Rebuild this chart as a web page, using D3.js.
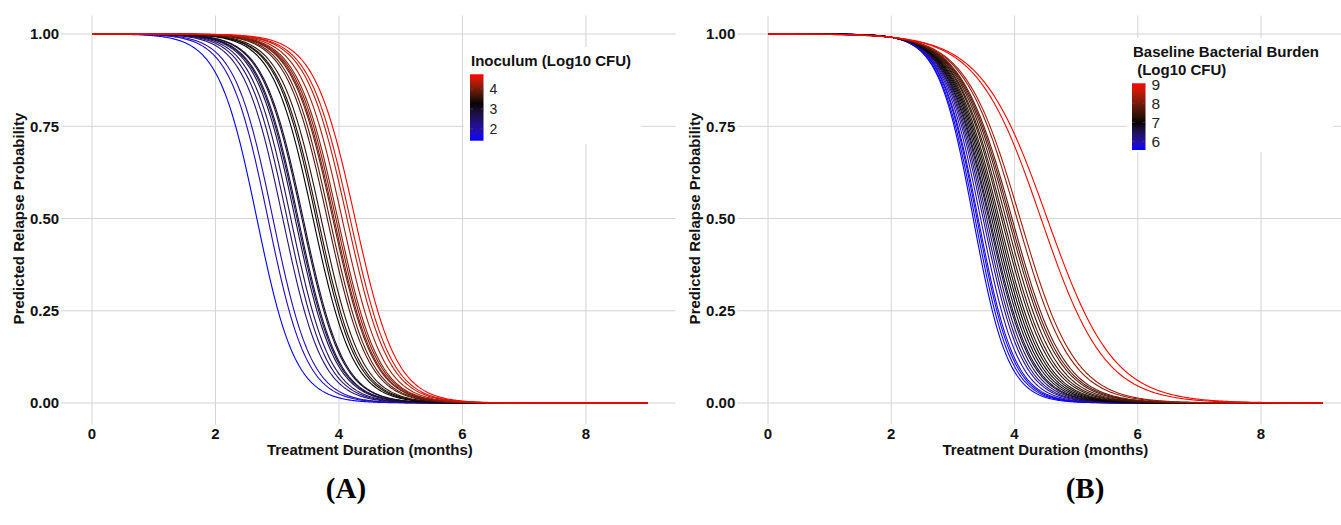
<!DOCTYPE html>
<html>
<head>
<meta charset="utf-8">
<script src="https://cdn.jsdelivr.net/npm/d3@7"></script>
<style>
  html, body { margin: 0; padding: 0; background: #fff; }
  svg { display: block; }
  text { font-family: "Liberation Sans", Arial, Helvetica, sans-serif; }
  text.caption { font-family: "Liberation Serif", "Times New Roman", serif; }
</style>
</head>
<body>
<svg id="chart" width="1341" height="525"></svg>
<script>
// ---------- DATA ----------
// Panel A: one curve per inoculum value; t50 = duration (months) at 50% relapse, slope = logistic steepness
const inoculumA = [1.40, 1.77, 1.94, 2.27, 2.42, 2.54, 2.69, 2.75, 2.79, 2.92, 2.96, 3.29, 3.40,
                   3.46, 3.56, 3.77, 3.85, 3.96, 4.00, 4.06, 4.12, 4.27, 4.44, 4.54, 4.75];
const t50A      = [2.67, 2.85, 2.93, 3.09, 3.16, 3.22, 3.29, 3.32, 3.34, 3.40, 3.42, 3.58, 3.63,
                   3.66, 3.71, 3.81, 3.85, 3.90, 3.92, 3.95, 3.98, 4.05, 4.13, 4.18, 4.26];
const slopeA    = [3.20, 3.20, 3.20, 3.15, 3.15, 3.15, 3.12, 3.12, 3.12, 3.10, 3.10, 3.08, 3.08,
                   3.06, 3.06, 3.05, 3.05, 3.04, 3.04, 3.03, 3.03, 3.02, 3.01, 3.00, 3.00];
const midA = 3.3;

// Panel B: one curve per baseline bacterial burden value
const burdenB = [5.55, 5.62, 5.70, 5.78, 5.90, 6.10, 6.25, 6.45, 6.65, 6.75, 6.85, 6.95, 7.05,
                 7.15, 7.25, 7.35, 7.45, 7.55, 7.65, 7.75, 7.85, 8.20, 8.35, 8.90, 9.05];
const t50B    = [3.33, 3.36, 3.39, 3.41, 3.45, 3.49, 3.52, 3.55, 3.58, 3.60, 3.63, 3.66, 3.69,
                 3.72, 3.75, 3.79, 3.82, 3.86, 3.90, 3.93, 3.96, 4.04, 4.09, 4.43, 4.53];
const slopeB  = [3.55, 3.45, 3.40, 3.35, 3.25, 3.15, 3.10, 3.03, 2.97, 2.94, 2.88, 2.83, 2.78,
                 2.73, 2.69, 2.63, 2.58, 2.53, 2.47, 2.44, 2.40, 2.30, 2.25, 1.93, 1.86];
const midB = 7.0;

const xTicks = [0, 2, 4, 6, 8];
const yTicks = [0, 0.25, 0.5, 0.75, 1];
const durationRange = [0, 9];

// ---------- LAYOUT ----------
const svg = d3.select("#chart");

function predicted(t, t50, k) { return 1 / (1 + Math.exp(k * (t - t50))); }

function drawPanel(cfg) {
  const g = svg.append("g");
  const x = d3.scaleLinear().domain([-0.45, 9.45]).range(cfg.xRange);
  const y = d3.scaleLinear().domain([-0.05, 1.05]).range([421.45, 15.55]);
  const [x0, x1] = cfg.xRange;

  // grid
  g.append("g").selectAll("line").data(yTicks).join("line")
    .attr("x1", x0 - 3).attr("x2", x1)
    .attr("y1", d => y(d)).attr("y2", d => y(d))
    .attr("stroke", "#d4d4d4").attr("stroke-width", 1);
  g.append("g").selectAll("line").data(xTicks).join("line")
    .attr("x1", d => x(d)).attr("x2", d => x(d))
    .attr("y1", y(1.05)).attr("y2", y(-0.05) + 3)
    .attr("stroke", "#d4d4d4").attr("stroke-width", 1);

  // tick labels
  g.append("g").selectAll("text").data(yTicks).join("text")
    .attr("x", x0 - 5).attr("y", d => y(d)).attr("dy", "0.35em")
    .attr("text-anchor", "end").attr("font-weight", "bold").attr("font-size", 15)
    .attr("fill", "#111").text(d3.format(".2f"));
  g.append("g").selectAll("text").data(xTicks).join("text")
    .attr("x", d => x(d)).attr("y", 439)
    .attr("text-anchor", "middle").attr("font-weight", "bold").attr("font-size", 15)
    .attr("fill", "#111").text(d => d);

  // axis titles
  g.append("text")
    .attr("x", (x0 + x1) / 2).attr("y", 455)
    .attr("text-anchor", "middle").attr("font-weight", "bold").attr("font-size", 15)
    .attr("fill", "#111").text("Treatment Duration (months)");
  g.append("text")
    .attr("transform", `translate(${cfg.yTitleX},${y(0.5)}) rotate(-90)`)
    .attr("text-anchor", "middle").attr("font-weight", "bold").attr("font-size", 15)
    .attr("fill", "#111").text("Predicted Relapse Probability");

  // legend background (hides grid)
  const L = cfg.legend;
  g.append("rect").attr("x", L.box[0]).attr("y", L.box[1])
    .attr("width", L.box[2]).attr("height", L.box[3]).attr("fill", "#fff");

  // colour scale
  const ext = d3.extent(cfg.values);
  const color = d3.scaleLinear().domain([ext[0], cfg.mid, ext[1]])
    .range(["#0000ff", "#000000", "#ff0000"]).interpolate(d3.interpolateLab);

  // curves
  const ts = d3.range(durationRange[0], durationRange[1] + 1e-9, 0.02);
  const line = d3.line().x(d => x(d[0])).y(d => y(d[1]));
  const curves = cfg.values.map((v, i) => ({
    v, pts: ts.map(t => [t, predicted(t, cfg.t50[i], cfg.slope[i])])
  })).sort((a, b) => a.v - b.v);
  g.append("g").selectAll("path").data(curves).join("path")
    .attr("d", d => line(d.pts))
    .attr("fill", "none").attr("stroke", d => color(d.v))
    .attr("stroke-width", 1.1);

  // legend title
  const title = g.append("text").attr("x", L.titleX).attr("y", L.titleY)
    .attr("font-weight", "bold").attr("font-size", 15).attr("fill", "#111");
  L.title.forEach((s, i) => {
    title.append("tspan").attr("x", L.titleX).attr("dy", i === 0 ? 0 : L.lineH)
      .attr("xml:space", "preserve").text(s);
  });

  // colour bar
  const gradId = "grad" + cfg.id;
  const grad = svg.append("defs").append("linearGradient").attr("id", gradId)
    .attr("x1", 0).attr("y1", 1).attr("x2", 0).attr("y2", 0);
  d3.range(0, 1.0001, 0.05).forEach(f => {
    grad.append("stop").attr("offset", f)
      .attr("stop-color", color(ext[0] + f * (ext[1] - ext[0])));
  });
  const barY = d3.scaleLinear().domain(ext).range([L.barBottom, L.barTop]);
  g.append("rect").attr("x", L.barX).attr("y", L.barTop)
    .attr("width", L.barW).attr("height", L.barBottom - L.barTop)
    .attr("fill", `url(#${gradId})`);
  const lg = g.append("g");
  lg.selectAll("line.tl").data(L.ticks).join("line").attr("class", "tl")
    .attr("x1", L.barX).attr("x2", L.barX + 3)
    .attr("y1", d => barY(d)).attr("y2", d => barY(d))
    .attr("stroke", "#555").attr("stroke-opacity", 0.6);
  lg.selectAll("line.tr").data(L.ticks).join("line").attr("class", "tr")
    .attr("x1", L.barX + L.barW - 3).attr("x2", L.barX + L.barW)
    .attr("y1", d => barY(d)).attr("y2", d => barY(d))
    .attr("stroke", "#555").attr("stroke-opacity", 0.6);
  lg.selectAll("text").data(L.ticks).join("text")
    .attr("x", L.barX + L.barW + 6).attr("y", d => barY(d)).attr("dy", "0.36em")
    .attr("font-size", L.labelSize).attr("fill", "#222").text(d => d);

  // panel caption
  svg.append("text").attr("class", "caption")
    .attr("x", cfg.captionX).attr("y", 498)
    .attr("text-anchor", "middle").attr("font-weight", "bold").attr("font-size", 29)
    .attr("fill", "#000").text(cfg.caption);
}

drawPanel({
  id: "A", xRange: [64.2, 675.5], yTitleX: 24,
  values: inoculumA, t50: t50A, slope: slopeA, mid: midA,
  caption: "(A)", captionX: 346,
  legend: {
    box: [464, 47, 177, 97], title: ["Inoculum (Log10 CFU)"], titleX: 471, titleY: 66, lineH: 18,
    barX: 470, barW: 13.5, barTop: 74.3, barBottom: 140.7, ticks: [2, 3, 4], labelSize: 14
  }
});
drawPanel({
  id: "B", xRange: [740.3, 1350.4], yTitleX: 700,
  values: burdenB, t50: t50B, slope: slopeB, mid: midB,
  caption: "(B)", captionX: 1085,
  legend: {
    box: [1127, 38, 206, 114], title: ["Baseline Bacterial Burden", " (Log10 CFU)"],
    titleX: 1133, titleY: 57, lineH: 17.5,
    barX: 1132, barW: 13.5, barTop: 83.3, barBottom: 150, ticks: [6, 7, 8, 9], labelSize: 15.5
  }
});
</script>
</body>
</html>
